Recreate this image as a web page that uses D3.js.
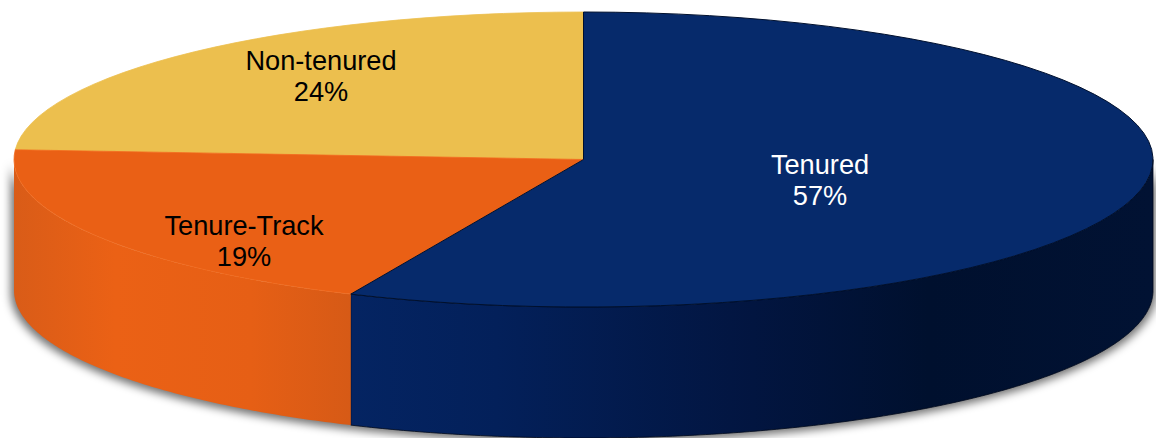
<!DOCTYPE html>
<html><head><meta charset="utf-8">
<script src="https://cdn.jsdelivr.net/npm/d3@7"></script>
<style>html,body{margin:0;padding:0;background:#fff}svg{display:block}</style>
</head><body><svg id="c" width="1156" height="438"></svg>
<script>
const categories = ["Tenured", "Tenure-Track", "Non-tenured"];
const shares = [56.7, 19.35, 23.95];
const topColors = ["#062a6b", "#ea6015", "#ecbf4e"];
const edgeColors = ["#00102e", "#f26a1c", "#ecbf4e"];
const textColors = ["#ffffff", "#000000", "#000000"];

const W = 1156, H = 438;
const cx = 583.5, cy = 159.5, rx = 569.5, ry = 147.5, depth = 131;
const labelAnchors = [[820, 174], [244, 235], [321, 70]];
const lineGap = 31;

const svg = d3.select("#c");
const defs = svg.append("defs");

const blur = defs.append("filter").attr("id", "soft")
  .attr("x", "-5%").attr("y", "-10%").attr("width", "110%").attr("height", "120%");
blur.append("feGaussianBlur").attr("stdDeviation", 4);

function grad(id, x1, x2, stops) {
  const g = defs.append("linearGradient").attr("id", id)
    .attr("gradientUnits", "userSpaceOnUse")
    .attr("x1", x1).attr("x2", x2).attr("y1", 0).attr("y2", 0);
  stops.forEach(s => g.append("stop").attr("offset", s[0]).attr("stop-color", s[1]));
}
grad("wall0", 352, 1153, [[0, "#042462"], [0.18, "#03205a"], [0.5, "#021540"], [0.72, "#00102e"], [1, "#011233"]]);
grad("wall1", 14, 352, [[0, "#d95c18"], [0.3, "#eb6115"], [0.7, "#e65f15"], [1, "#d65a16"]]);

const pie = d3.pie().sort(null).value(d => d.share);
const slices = pie(categories.map((c, i) => ({ name: c, share: shares[i], i })));

const px = a => cx + rx * Math.sin(a);
const py = a => cy - ry * Math.cos(a);

const wall = d3.area().x(px).y0(py).y1(a => py(a) + depth);
function samples(a0, a1) {
  const n = Math.max(2, Math.ceil(Math.abs(a1 - a0) / 0.01));
  return d3.range(n + 1).map(k => a0 + (a1 - a0) * k / n);
}

// soft shadow under the disc
svg.append("path")
  .attr("d", wall(samples(Math.PI / 2, 3 * Math.PI / 2)))
  .attr("fill", "#000").attr("fill-opacity", 0.55)
  .attr("transform", `translate(${cx},${cy + 1}) scale(1.006,1.012) translate(${-cx},${-cy})`)
  .attr("filter", "url(#soft)");

// visible front walls
const lo = Math.PI / 2, hi = 3 * Math.PI / 2;
svg.selectAll("path.wall").data(slices).join("path")
  .attr("class", "wall")
  .attr("d", d => {
    const a0 = Math.max(d.startAngle, lo), a1 = Math.min(d.endAngle, hi);
    return a1 > a0 ? wall(samples(a0, a1)) : null;
  })
  .attr("fill", d => `url(#wall${d.index})`)
  .attr("stroke", d => d.index === 0 ? "#00091c" : "none")
  .attr("stroke-width", 0.8);

// top face: flattened d3 arcs
const arc = d3.arc().innerRadius(0).outerRadius(rx);
const disc = svg.append("g").attr("transform", `translate(${cx},${cy}) scale(1,${ry / rx})`);
[2, 1, 0].forEach(i => {
  const d = slices[i];
  disc.append("path").attr("d", arc(d))
    .attr("fill", topColors[i])
    .attr("stroke", edgeColors[i])
    .attr("stroke-width", i === 0 ? 1 : 0.8)
    .attr("vector-effect", "non-scaling-stroke");
});

// labels
slices.forEach((d, i) => {
  const [x, y] = labelAnchors[i];
  const t = svg.append("text").attr("text-anchor", "middle")
    .attr("font-family", "Liberation Sans, Arial, sans-serif")
    .attr("font-size", 27.2).attr("fill", textColors[i]);
  t.append("tspan").attr("x", x).attr("y", y).text(categories[i]);
  t.append("tspan").attr("x", x).attr("y", y + lineGap).text(Math.round(shares[i]) + "%");
});
</script></body></html>
